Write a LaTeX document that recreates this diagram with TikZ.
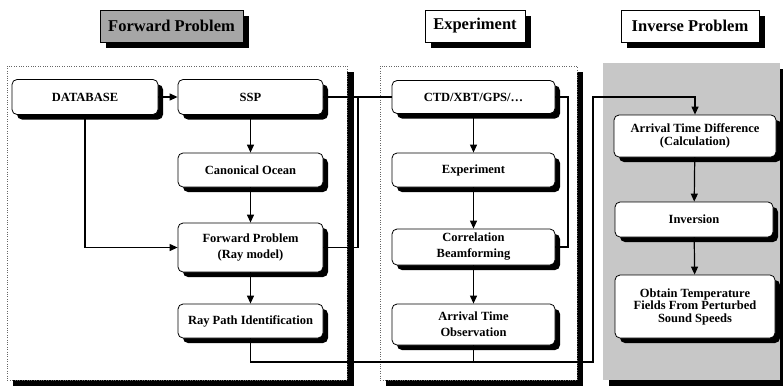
\documentclass[tikz,border=0pt]{standalone}
\usepackage{fontspec}
\setmainfont{Liberation Serif}
\usetikzlibrary{arrows.meta,shadows}

\begin{document}
\begin{tikzpicture}[x=1pt,y=-1pt,>={Triangle[length=8pt,width=7pt]},
  box/.style={draw,rounded corners=5pt,fill=white,line width=0.8pt,
    align=center,inner sep=2pt,font=\bfseries\fontsize{12.5}{16}\selectfont,
    drop shadow={shadow xshift=5pt,shadow yshift=-5pt,fill=black,opacity=1}},
  head/.style={draw,fill=white,line width=0.8pt,minimum height=32pt,
    font=\bfseries\fontsize{16.5}{18}\selectfont,
    drop shadow={shadow xshift=6pt,shadow yshift=-6pt,fill=black,opacity=1}},
  link/.style={line width=1.2pt},
  frame/.style={draw=black!60,dotted,fill=white}]
  \useasboundingbox (0,0) rectangle (783,386);
  % ---- panels (black bar = shadow) ----
  \fill (13,72) rectangle (354,386);
  \draw[frame] (7,66) rectangle (347,380);
  \fill (386,72) rectangle (583,386);
  \draw[frame] (380,66) rectangle (577,380);
  \fill (609,69) rectangle (783,386);
  \fill[black!22] (603,63) rectangle (780,380);
  % ---- titles ----
  \node[head,fill=black!35,minimum width=143pt] (hfwd) at (171.5,26) {Forward Problem};
  \node[head,minimum width=100pt] (hexp) at (475,26) {Experiment};
  \node[head,minimum width=138pt] (hinv) at (690,26) {Inverse Problem};
  % ---- forward problem column ----
  \node[box,minimum width=146pt,minimum height=35pt] (database) at (85,97) {DATABASE};
  \node[box,minimum width=145pt,minimum height=35pt] (ssp) at (250.5,97) {SSP};
  \node[box,minimum width=145pt,minimum height=34pt] (canon) at (250.5,170) {Canonical Ocean};
  \node[box,minimum width=145pt,minimum height=49pt] (fwd) at (250.5,247.5)
    {Forward Problem\\(Ray model)};
  \node[box,minimum width=145pt,minimum height=34pt] (raypath) at (250.5,321)
    {Ray Path Identification};
  % ---- experiment column ----
  \node[box,minimum width=163pt,minimum height=33pt] (ctd) at (473.5,97) {CTD/XBT/GPS/\ldots};
  \node[box,minimum width=163pt,minimum height=34pt] (expt) at (473.5,170) {Experiment};
  \node[box,minimum width=163pt,minimum height=36pt] (corr) at (473.5,247)
    {Correlation\\Beamforming};
  \node[box,minimum width=163pt,minimum height=41pt] (arrobs) at (473.5,324.5)
    {Arrival Time\\Observation};
  % ---- inverse problem column ----
  \node[box,minimum width=162pt,minimum height=42pt,
    font=\bfseries\fontsize{12.5}{13}\selectfont] (atd) at (695,136)
    {Arrival Time Difference\\(Calculation)};
  \node[box,minimum width=158pt,minimum height=35pt] (inv) at (694,219.5) {Inversion};
  \node[box,minimum width=160pt,minimum height=63pt,
    font=\bfseries\fontsize{12.5}{12.5}\selectfont] (obtain) at (695,306.5)
    {Obtain Temperature\\Fields From Perturbed\\Sound Speeds};
  % ---- junctions ----
  \coordinate (jA) at (358,97);
  \coordinate (jB) at (568,97);
  \coordinate (jC) at (593,362);
  \coordinate (jD) at (593,97);
  % ---- connectors ----
  \draw[link,->] (database) -- (ssp);
  \draw[link,->] (database.south) |- (fwd.west);
  \draw[link,->] (ssp) -- (canon);
  \draw[link,->] (canon) -- (fwd);
  \draw[link,->] (fwd) -- (raypath);
  \draw[link] (ssp) -- (ctd);
  \draw[link] (fwd.east) -| (jA);
  \draw[link,->] (ctd) -- (expt);
  \draw[link,->] (expt) -- (corr);
  \draw[link,->] (corr) -- (arrobs);
  \draw[link] (ctd.east) -- (jB) |- (corr.east);
  \draw[link,->] (raypath.south) |- (jC) -- (jD) -| (atd.north);
  \draw[link] (arrobs.south) -- (arrobs.south |- jC);
  \draw[link,->] (atd) -- (inv);
  \draw[link,->] (inv) -- (obtain);
\end{tikzpicture}
\end{document}
